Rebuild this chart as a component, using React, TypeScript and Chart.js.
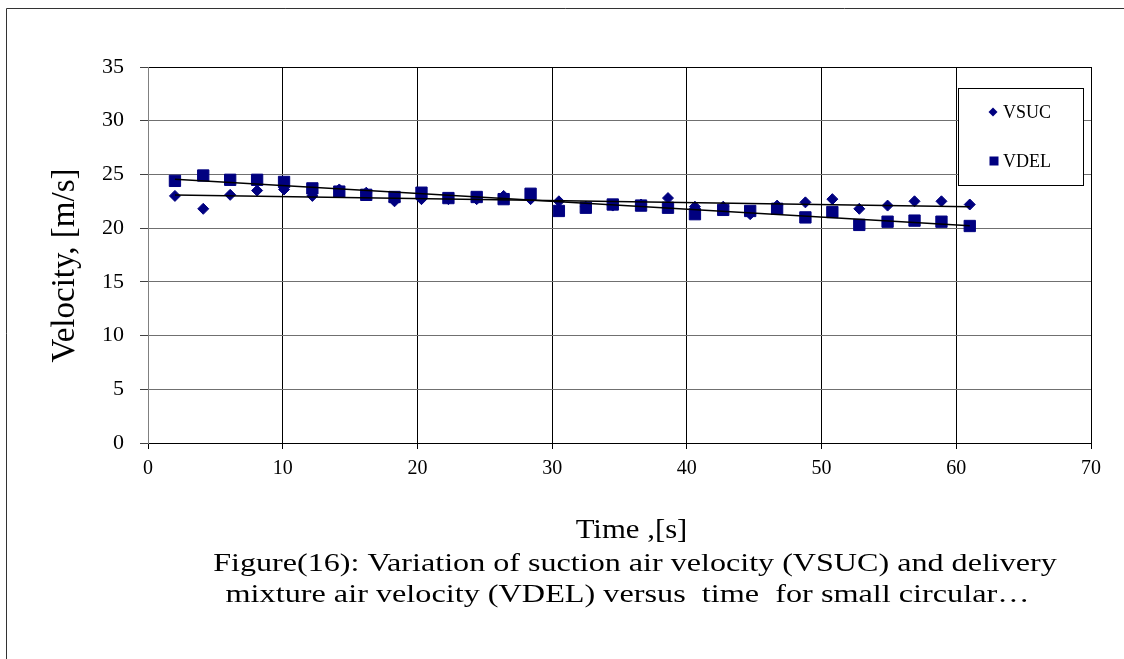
import React, { useEffect, useRef } from "react";
import { Chart, registerables } from "chart.js";

Chart.register(...registerables);

// ---- data ----
const timeS = [2.0, 4.1, 6.1, 8.1, 10.1, 12.2, 14.2, 16.2, 18.3, 20.3, 22.3, 24.4, 26.4, 28.4, 30.5, 32.5, 34.5, 36.6, 38.6, 40.6, 42.7, 44.7, 46.7, 48.8, 50.8, 52.8, 54.9, 56.9, 58.9, 61.0];
const vsuc = [23.0, 21.8, 23.1, 23.5, 23.6, 23.0, 23.6, 23.3, 22.5, 22.7, 22.7, 22.7, 23.0, 22.7, 22.5, 22.0, 22.1, 22.2, 22.8, 22.0, 22.0, 21.3, 22.1, 22.4, 22.7, 21.8, 22.1, 22.5, 22.5, 22.2];
const vdel = [24.4, 24.9, 24.5, 24.5, 24.3, 23.7, 23.4, 23.1, 22.9, 23.3, 22.8, 22.9, 22.7, 23.2, 21.6, 21.9, 22.2, 22.1, 21.9, 21.3, 21.7, 21.6, 21.8, 21.0, 21.5, 20.3, 20.6, 20.7, 20.6, 20.2];
const seriesNames = ["VSUC", "VDEL"];
const xRange = [0, 70];
const xStep = 10;
const yRange = [0, 35];
const yStep = 5;
const xTitle = "Time ,[s]";
const yTitle = "Velocity, [m/s]";
const captionLines = [
  "Figure(16): Variation of suction air velocity (VSUC) and delivery",
  "mixture air velocity (VDEL) versus  time  for small circular\u2026",
];

const NAVY = "#000080";
const FONT = '"Liberation Serif", "Times New Roman", serif';

function trend(xs: number[], ys: number[]) {
  const n = xs.length;
  let sx = 0, sy = 0, sxx = 0, sxy = 0;
  for (let i = 0; i < n; i++) {
    sx += xs[i]; sy += ys[i]; sxx += xs[i] * xs[i]; sxy += xs[i] * ys[i];
  }
  const b = (n * sxy - sx * sy) / (n * sxx - sx * sx);
  const a = (sy - b * sx) / n;
  const x0 = xs[0], x1 = xs[n - 1];
  return [{ x: x0, y: a + b * x0 }, { x: x1, y: a + b * x1 }];
}

function stretchedText(ctx: CanvasRenderingContext2D, text: string, cx: number, by: number, sx: number) {
  ctx.save();
  ctx.translate(cx, by);
  ctx.scale(sx, 1);
  ctx.fillText(text, 0, 0);
  ctx.restore();
}

const decorPlugin = {
  id: "decor",
  afterDraw(chart: any) {
    const ctx = chart.ctx as CanvasRenderingContext2D;
    const W = chart.width, H = chart.height;
    ctx.save();
    // outer frame
    ctx.strokeStyle = "#333";
    ctx.lineWidth = 1;
    ctx.beginPath();
    ctx.moveTo(6.5, H);
    ctx.lineTo(6.5, 8.5);
    ctx.lineTo(W, 8.5);
    ctx.stroke();

    ctx.fillStyle = "#000";
    // y title
    ctx.save();
    ctx.font = `33px ${FONT}`;
    ctx.textAlign = "center";
    ctx.textBaseline = "alphabetic";
    ctx.translate(74, 265.5);
    ctx.rotate(-Math.PI / 2);
    ctx.fillText(yTitle, 0, 0);
    ctx.restore();

    ctx.textAlign = "center";
    ctx.textBaseline = "alphabetic";
    // x title
    ctx.font = `27px ${FONT}`;
    stretchedText(ctx, xTitle, 631.5, 538, 1.14);

    // caption
    ctx.font = `26px ${FONT}`;
    stretchedText(ctx, captionLines[0], 635, 571, 1.235);
    stretchedText(ctx, captionLines[1], 627.5, 602, 1.24);

    // legend
    const lx = 958.5, ly = 88.5, lw = 125, lh = 97;
    ctx.fillStyle = "#fff";
    ctx.fillRect(lx, ly, lw, lh);
    ctx.strokeStyle = "#000";
    ctx.lineWidth = 1;
    ctx.strokeRect(lx, ly, lw, lh);

    ctx.fillStyle = NAVY;
    // diamond
    const dx = 993, dy = 112, dr = 4.5;
    ctx.beginPath();
    ctx.moveTo(dx, dy - dr);
    ctx.lineTo(dx + dr, dy);
    ctx.lineTo(dx, dy + dr);
    ctx.lineTo(dx - dr, dy);
    ctx.closePath();
    ctx.fill();
    // square
    ctx.fillRect(989.5, 156.5, 9, 9);

    ctx.fillStyle = "#000";
    ctx.font = `18px ${FONT}`;
    ctx.textAlign = "left";
    ctx.textBaseline = "middle";
    ctx.fillText(seriesNames[0], 1003, 113);
    ctx.fillText(seriesNames[1], 1003, 162);
    ctx.restore();
  },
};

export default function App() {
  const ref = useRef<HTMLCanvasElement | null>(null);

  useEffect(() => {
    if (!ref.current) return;
    const chart = new Chart(ref.current, {
      type: "scatter",
      data: {
        datasets: [
          {
            type: "line",
            label: "VSUC trend",
            data: trend(timeS, vsuc),
            borderColor: "#000",
            borderWidth: 1.5,
            pointRadius: 0,
            fill: false,
            order: 0,
          } as any,
          {
            type: "line",
            label: "VDEL trend",
            data: trend(timeS, vdel),
            borderColor: "#000",
            borderWidth: 1.5,
            pointRadius: 0,
            fill: false,
            order: 0,
          } as any,
          {
            label: seriesNames[1],
            data: timeS.map((t, i) => ({ x: t, y: vdel[i] })),
            pointStyle: "rect",
            pointRadius: 8,
            backgroundColor: NAVY,
            borderColor: NAVY,
            borderWidth: 1,
            order: 1,
          },
          {
            label: seriesNames[0],
            data: timeS.map((t, i) => ({ x: t, y: vsuc[i] })),
            pointStyle: "rectRot",
            pointRadius: 5.5,
            backgroundColor: NAVY,
            borderColor: NAVY,
            borderWidth: 1,
            order: 2,
          },
        ],
      },
      options: {
        animation: false,
        responsive: false,
        devicePixelRatio: 1,
        events: [],
        layout: { padding: { left: 0, top: 67, right: 33, bottom: 0 } },
        plugins: {
          legend: { display: false },
          title: { display: false },
          tooltip: { enabled: false },
        },
        scales: {
          x: {
            type: "linear",
            min: xRange[0],
            max: xRange[1],
            afterFit: (scale: any) => { scale.height = 216; },
            ticks: {
              stepSize: xStep,
              color: "#000",
              font: { family: FONT, size: 20 },
              padding: 8,
              maxRotation: 0,
            },
            grid: {
              color: (c: any) => (c.tick && c.tick.value === 0 ? "#808080" : "#000"),
              tickColor: "#000",
              tickLength: 6,
              lineWidth: 1,
            },
            border: { color: "#000", width: 1 },
          },
          y: {
            type: "linear",
            min: yRange[0],
            max: yRange[1],
            afterFit: (scale: any) => { scale.width = 148; },
            ticks: {
              stepSize: yStep,
              color: "#000",
              font: { family: FONT, size: 22 },
              padding: 16,
            },
            grid: {
              color: (c: any) => (c.tick && (c.tick.value === 0 || c.tick.value === 35) ? "#000" : "#707070"),
              tickColor: "#404040",
              tickLength: 8,
              lineWidth: 1,
            },
            border: { color: "#808080", width: 1 },
          },
        },
      },
      plugins: [decorPlugin],
    });
    return () => chart.destroy();
  }, []);

  return (
    <div style={{ position: "absolute", left: 0, top: 0, width: 1124, height: 659, background: "#fff" }}>
      <canvas ref={ref} width={1124} height={659} style={{ width: 1124, height: 659, display: "block" }} />
    </div>
  );
}
